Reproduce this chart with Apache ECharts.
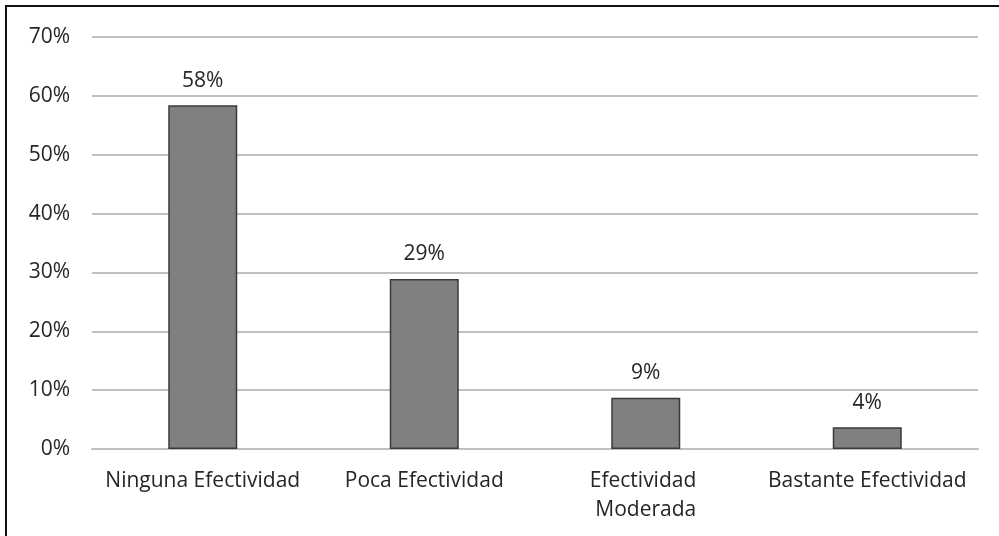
<!doctype html>
<html>
<head>
    <meta charset="utf-8">
    <title>Efectividad</title>
    <script src="https://cdn.jsdelivr.net/npm/echarts@6/dist/echarts.min.js"></script>
    <style>
        html, body { margin: 0; padding: 0; background: #fff; }
        #frame { position: absolute; left: 5px; top: 5px; right: 0; bottom: 0; border-left: 2px solid #111; border-top: 2px solid #111; }
        #main { position: absolute; left: 0; top: 0; width: 999px; height: 536px; }
    </style>
</head>
<body>
    <div id="main"></div>
    <div id="frame"></div>
<script type="text/javascript">
    // datos del gráfico
    var categorias = ['Ninguna Efectividad', 'Poca Efectividad', 'Efectividad Moderada', 'Bastante Efectividad'];
    var valores = [58.4, 28.9, 8.7, 3.7];
    var etiquetas = ['58%', '29%', '9%', '4%'];
    var ticksY = [0, 10, 20, 30, 40, 50, 60, 70];

    var myChart = echarts.init(document.getElementById('main'));
    var fuente = 'Open Sans';

    var option = {
        animation: false,
        grid: { left: 92, right: 21, top: 37, bottom: 87 },
        xAxis: {
            type: 'category',
            data: categorias,
            axisLine: { lineStyle: { color: '#bfbfbf', width: 2 } },
            axisTick: { show: false },
            axisLabel: {
                color: '#262626', fontFamily: fuente, fontSize: 21,
                margin: 18, lineHeight: 29,
                width: 205, overflow: 'break', interval: 0
            }
        },
        yAxis: {
            type: 'value',
            min: ticksY[0],
            max: ticksY[ticksY.length - 1],
            interval: 10,
            axisLine: { show: false },
            axisTick: { show: false },
            splitLine: { lineStyle: { color: '#bfbfbf', width: 2 } },
            axisLabel: {
                color: '#262626', fontFamily: fuente, fontSize: 21, margin: 22,
                formatter: '{value}%'
            }
        },
        series: [{
            type: 'bar',
            data: valores,
            barWidth: 69,
            itemStyle: { color: '#808080', borderColor: '#3a3a3a', borderWidth: 1.5 },
            label: {
                show: true, position: 'top', distance: 14,
                color: '#262626', fontFamily: fuente, fontSize: 21,
                formatter: function (p) { return etiquetas[p.dataIndex]; }
            }
        }]
    };
    myChart.setOption(option);
</script>
</body>
</html>
